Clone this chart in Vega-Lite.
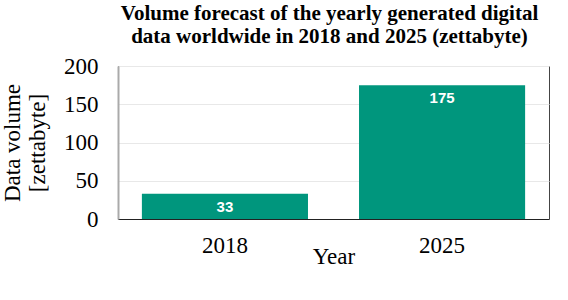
{
  "$schema": "https://vega.github.io/schema/vega-lite/v6.json",
  "width": 431,
  "height": 153,
  "autosize": {"type": "none"},
  "padding": {"left": 118, "top": 66, "right": 19, "bottom": 81},
  "background": "white",
  "title": {
    "text": ["Volume forecast of the yearly generated digital", "data worldwide in 2018 and 2025 (zettabyte)"],
    "font": "Liberation Serif",
    "fontSize": 21,
    "fontWeight": "bold",
    "color": "#000000",
    "lineHeight": 23,
    "anchor": "middle",
    "baseline": "alphabetic",
    "offset": -9,
    "dx": -4
  },
  "config": {
    "view": {"stroke": "#444444", "strokeWidth": 1},
    "axis": {"labelFont": "Liberation Serif", "titleFont": "Liberation Serif", "labelColor": "#000000", "titleColor": "#000000"}
  },
  "data": {
    "values": [
      {"year": "2018", "volume": 33},
      {"year": "2025", "volume": 175}
    ]
  },
  "encoding": {
    "x": {
      "field": "year",
      "type": "nominal",
      "scale": {"paddingInner": 0.235, "paddingOuter": 0.11},
      "axis": {
        "title": "Year",
        "titleFontSize": 23,
        "titleFontWeight": "normal",
        "titlePadding": -12,
        "labelFontSize": 23,
        "labelAngle": 0,
        "labelPadding": 15,
        "ticks": false,
        "domainColor": "#222222",
        "domainWidth": 1.2
      }
    },
    "y": {
      "field": "volume",
      "type": "quantitative",
      "scale": {"domain": [0, 200]},
      "axis": {
        "title": ["Data volume", "[zettabyte]"],
        "titleFontSize": 23,
        "titleFontWeight": "normal",
        "titleLineHeight": 25,
        "titlePadding": 14,
        "values": [0, 50, 100, 150, 200],
        "labelFontSize": 23,
        "labelPadding": 20,
        "ticks": false,
        "domainColor": "#aaaaaa",
        "domainWidth": 2,
        "grid": true,
        "gridColor": "#e8e8e8",
        "gridWidth": 1
      }
    }
  },
  "layer": [
    {"mark": {"type": "bar", "color": "#00967D"}},
    {
      "mark": {"type": "text", "color": "#ffffff", "font": "Liberation Sans", "fontWeight": "bold", "fontSize": 15, "baseline": "middle", "dy": 13},
      "encoding": {"text": {"field": "volume", "type": "quantitative"}}
    }
  ]
}
